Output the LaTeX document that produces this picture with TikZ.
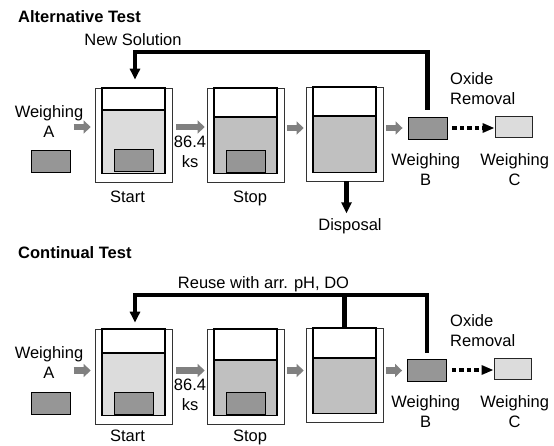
\documentclass[tikz,border=0pt]{standalone}
\usepackage{fontspec}
\setmainfont{Liberation Sans}
\usetikzlibrary{arrows.meta,calc}
\definecolor{liqlight}{HTML}{DCDCDC}
\definecolor{liqmid}{HTML}{C0C0C0}
\definecolor{sampdark}{HTML}{969696}
\definecolor{arrowgray}{HTML}{808080}
\newcommand\mybeaker[6]{%
  \node[beakerbox, minimum height=#6] (#1) at ({#2+38.5},{#3+#6/2}) {};
  \fill[#5] ({#2+7},#4) rectangle ({#2+70},{#3+#6-8.5});
  \draw[wall] ({#2+7},#3) rectangle ({#2+70},{#3+#6-8.5});
  \draw[wall] ({#2+7},#4) -- ({#2+70},#4);
}
\tikzset{
  beakerbox/.style={draw=black!80, line width=0.7pt, fill=white, minimum width=77pt, inner sep=0pt, rectangle},
  wall/.style={draw=black, line width=1.1pt},
  sample/.style={draw=black, line width=0.9pt, fill=sampdark, minimum width=39pt, minimum height=22pt, inner sep=0pt},
  lightbox/.style={draw=black!85, line width=0.9pt, fill=liqlight, minimum width=37pt, minimum height=21pt, inner sep=0pt},
  lab/.style={font=\fontsize{16.5}{20}\selectfont, inner sep=0pt, align=center},
  ttl/.style={font=\fontsize{16.5}{20}\selectfont\bfseries, inner sep=0pt, anchor=base west},
  garrow/.style={draw=arrowgray, line width=6.5pt, -{Triangle[length=7pt,width=13pt]}},
  feed/.style={draw=black, line width=4.3pt, -{Triangle[length=11pt,width=10pt]}},
  feedline/.style={draw=black, line width=4.3pt},
  dotarrow/.style={draw=black, line width=4.3pt, dash pattern=on 4.5pt off 3pt, -{Triangle[length=12pt,width=9pt]}},
}
\begin{document}
\begin{tikzpicture}[x=1pt,y=-1pt]
\useasboundingbox (0,0) rectangle (554,445);

% ===== Alternative Test =====
\node[ttl] (title1) at (18,22) {Alternative Test};
\node[lab, anchor=base] (newsol) at (133,45) {New Solution};

\node[sample] (wA1) at (50.5,161) {};
\node[lab, anchor=north] (wA1lab) at (49,105) {Weighing\\A};

\mybeaker{b1}{95}{88}{110}{liqlight}{94}
\node[sample] (s1) at (133.5,160.5) {};
\mybeaker{b2}{207}{88}{117}{liqmid}{94}
\node[sample] (s2) at (246,161) {};
\mybeaker{b3}{306}{87}{116}{liqmid}{94}

\node[lab, anchor=north] (t1) at (190,136) {86.4\\ks};
\node[lab, anchor=base] (start1) at (127.5,202) {Start};
\node[lab, anchor=base] (stop1) at (250,202) {Stop};
\node[lab, anchor=base] (disp) at (350,230) {Disposal};

\node[sample] (wB1) at (427.5,128) {};
\node[lightbox] (wC1) at (513.5,126.5) {};
\node[lab, anchor=north west, align=left] (ox1) at (450,72) {Oxide\\Removal};
\node[lab, anchor=north] (wB1lab) at (425.7,153) {Weighing\\B};
\node[lab, anchor=north] (wC1lab) at (514.7,153) {Weighing\\C};

\coordinate (ya1) at (0,127);
\coordinate (yb1) at (0,128);
\coordinate (top1) at (0,52);
\draw[garrow] ($(b1.west|-ya1)+(-21,0)$) -- ($(b1.west|-ya1)+(-4,0)$);
\draw[garrow] ($(b1.east|-ya1)+(4,0)$) -- ($(b2.west|-ya1)+(-2,0)$);
\draw[garrow] ($(b2.east|-yb1)+(3,0)$) -- ($(b3.west|-yb1)+(-2,0)$);
\draw[garrow] ($(b3.east|-yb1)+(3,0)$) -- ($(wB1.west|-yb1)+(-5,0)$);
\draw[dotarrow] ($(wB1.east)+(5,0)$) -- (wC1.west|-wB1.east);
\draw[feed] ($(wB1.north)+(0,-7)$) -- (wB1.north|-top1) -| ($(b1.north)+(1.5,-8)$);
\draw[feed] ($(b3.south)+(2,0)$) -- ($(b3.south)+(2,32)$);

% ===== Continual Test =====
\node[ttl] (title2) at (18,258) {Continual Test};
\node[lab, anchor=base] (reuse) at (263.5,288) {Reuse with arr. pH, DO};

\node[sample] (wA2) at (50.5,403) {};
\node[lab, anchor=north] (wA2lab) at (49,346) {Weighing\\A};

\mybeaker{c1}{95}{329}{353}{liqlight}{95}
\node[sample] (s3) at (133.5,403) {};
\mybeaker{c2}{207}{329}{360}{liqmid}{95}
\node[sample] (s4) at (246,403) {};
\mybeaker{c3}{306}{328}{358}{liqmid}{94}

\node[lab, anchor=north] (t2) at (190,379) {86.4\\ks};
\node[lab, anchor=base] (start2) at (127.5,441) {Start};
\node[lab, anchor=base] (stop2) at (250,441) {Stop};

\node[sample] (wB2) at (427,370) {};
\node[lightbox] (wC2) at (512.5,368.5) {};
\node[lab, anchor=north west, align=left] (ox2) at (450,314) {Oxide\\Removal};
\node[lab, anchor=north] (wB2lab) at (425.7,395) {Weighing\\B};
\node[lab, anchor=north] (wC2lab) at (514.7,395) {Weighing\\C};

\coordinate (ya2) at (0,370.5);
\coordinate (top2) at (0,295);
\draw[garrow] ($(c1.west|-ya2)+(-21,0)$) -- ($(c1.west|-ya2)+(-4,0)$);
\draw[garrow] ($(c1.east|-ya2)+(4,0)$) -- ($(c2.west|-ya2)+(-2,0)$);
\draw[garrow] ($(c2.east|-ya2)+(3,0)$) -- ($(c3.west|-ya2)+(-2,0)$);
\draw[garrow] ($(c3.east|-ya2)+(3,0)$) -- ($(wB2.west|-ya2)+(-5,0)$);
\draw[dotarrow] ($(wB2.east)+(5,0)$) -- (wC2.west|-wB2.east);
\draw[feed] ($(wB2.north)+(0,-6)$) -- (wB2.north|-top2) -| ($(c1.north)+(1.5,-6)$);
\draw[feedline] (c3.north) -- (c3.north|-top2);
\end{tikzpicture}
\end{document}
